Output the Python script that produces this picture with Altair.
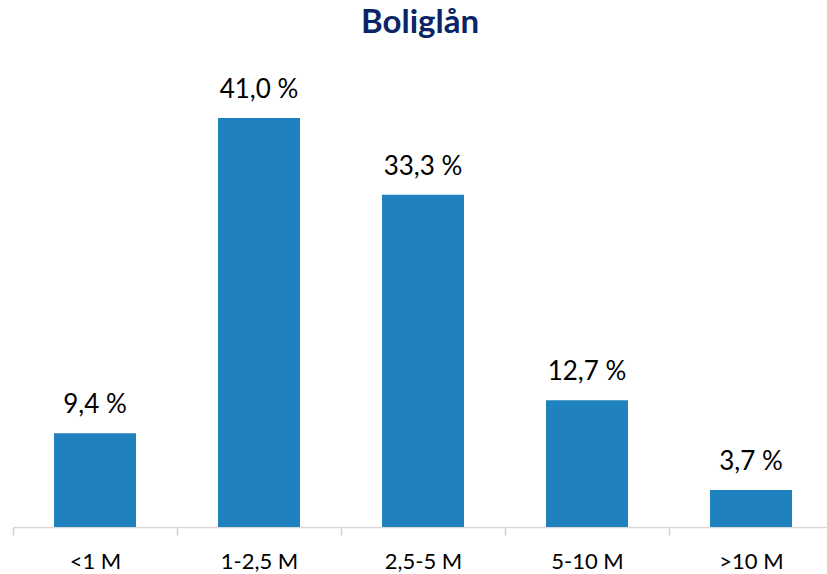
import altair as alt
import pandas as pd

categories = ["<1 M", "1-2,5 M", "2,5-5 M", "5-10 M", ">10 M"]
shares = [9.4, 41.0, 33.3, 12.7, 3.7]
labels = [f"{v:.1f}".replace(".", ",") + " %" for v in shares]

df = pd.DataFrame({"cat": categories, "share": shares, "label": labels})

FONT = "Lato"

x = alt.X("cat:N", sort=categories,
          scale=alt.Scale(range=[0, 820], paddingInner=0, paddingOuter=0),
          axis=alt.Axis(title=None, labelAngle=0, tickBand="extent",
                        domainColor="#d9d9d9", domainWidth=1.5, tickColor="#d0d0d0",
                        ticks=True, tickWidth=1.5, tickSize=8, labelFont=FONT, labelFontSize=22,
                        labelColor="#000000", labelPadding=16, grid=False))
y = alt.Y("share:Q", scale=alt.Scale(domain=[0, 45], nice=False), axis=None)

bars = alt.Chart(df).mark_bar(color="#1F81BD", width=alt.RelativeBandSize(0.5)).encode(x=x, y=y)
text = alt.Chart(df).mark_text(font=FONT, fontSize=26, baseline="alphabetic",
                               dy=-20, color="#000000").encode(x=x, y=y, text="label:N")

chart = (bars + text).properties(
    width=814, height=449,
    title=alt.TitleParams("Boliglån", font=FONT, fontSize=33, fontWeight="bold",
                          color="#0A2566", anchor="middle", baseline="alphabetic", offset=11),
    autosize=alt.AutoSizeParams(type="none"),
    padding={"left": 13, "top": 78, "right": 0, "bottom": 47},
).configure_view(stroke=None)

chart.save("out.html", embed_options={"renderer": "svg", "actions": False})
